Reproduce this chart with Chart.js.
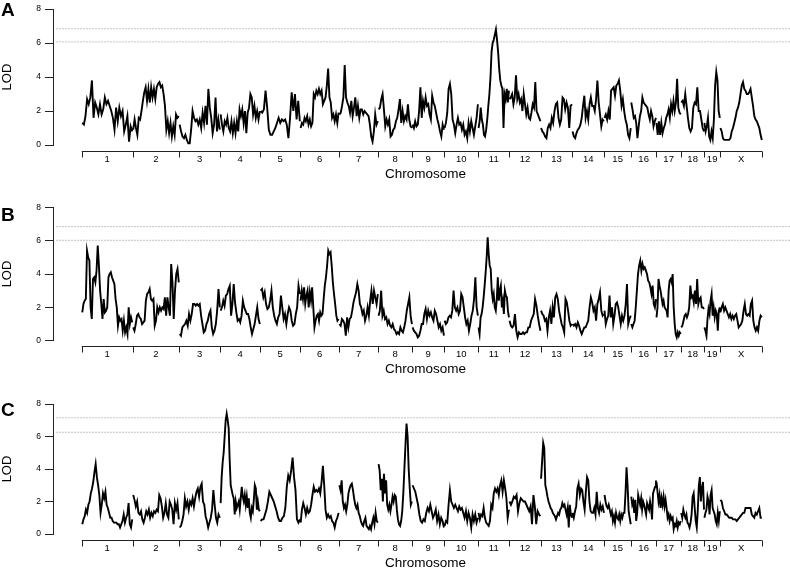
<!DOCTYPE html>
<html>
<head>
<meta charset="utf-8">
<script src="https://cdn.jsdelivr.net/npm/chart.js@4.4.1/dist/chart.umd.min.js"></script>
<style>
    body { margin: 0; background: #fff; width: 790px; height: 568px; position: relative; overflow: hidden; }
    canvas { position: absolute; left: 0; }
</style>
</head>
<body>
<canvas id="chartA" width="790" height="190" style="top:0px"></canvas>
<canvas id="chartB" width="790" height="190" style="top:190px"></canvas>
<canvas id="chartC" width="790" height="188" style="top:380px"></canvas>
<script>
const chromosomes = ['1','2','3','4','5','6','7','8','9','10','11','12','13','14','15','16','17','18','19','X'];
const chrLengths = [204, 186, 164, 160, 160, 155, 157, 136, 128, 136, 124, 126, 126, 128, 107, 101, 99, 93, 63, 169];

// LOD profile, one list per chromosome
const lodA = [
    [1.3,1.2,1.7,2.7,2.4,2.8,3.8,1.6,2.5,2.2,1.8,2.4,1.8,2.1,2.8,2.4,2.6,2.3,2.0,1.6,0.9,2.2,1.4,2.2,1.7,2.0,0.8,1.2,1.7,0.2,1.1,0.8],
    [0.9,1.5,1.0,0.6,1.6,1.5,2.0,2.6,3.1,3.4,2.6,3.3,2.5,3.4,2.8,3.3,2.7,3.4,3.6,3.7,3.4,3.5,3.0,2.3,0.9,1.4,0.7,1.3,0.5,1.1,0.6,1.8,1.6,1.7],
    [1.2,0.8,0.5,0.4,0.6,0.3,0.1,0.1,0.9,2.0,1.6,1.4,1.5,1.2,1.5,1.0,1.9,1.3,2.3,1.2,3.3,2.2,1.6,0.7,1.2,2.8,0.8,1.5,0.9],
    [1.8,1.2,0.8,1.4,1.2,1.6,1.0,0.8,1.4,0.7,1.3,0.7,1.4,0.8,2.1,1.7,2.1,1.3,2.0,0.7,1.9,2.2,3.0,2.8,1.8,2.3,1.6,2.0,1.5,2.0],
    [2.0,1.9,2.1,3.2,2.2,0.9,0.6,0.6,0.8,1.0,1.3,1.6,1.3,1.5,1.4,1.5,1.2,0.4,1.6,3.1,2.0,3.0,1.5,2.6,1.4],
    [1.0,1.3,1.2,1.6,1.4,1.7,1.2,1.5,1.1,1.3,3.0,2.8,3.2,3.0,3.3,3.0,3.2,2.4,2.6,2.8,3.5,4.5,2.8,2.5,1.6,1.8,1.4,1.8,1.3,1.9],
    [1.8,1.9,2.3,2.8,4.7,2.8,2.5,2.3,1.9,2.6,1.7,2.2,2.8,1.7,2.3,1.6,2.1,2.1,1.8,2.0,1.9,1.8,1.7,1.2,0.5,0.2,0.8,1.8,1.2,1.4],
    [2.1,2.2,2.7,3.0,2.1,1.1,1.5,1.2,1.5,0.5,0.6,0.9,1.0,1.4,1.6,2.1,2.7,1.3,2.0,1.4,1.7,1.5,2.4,1.5,1.1,1.0],
    [1.2,1.0,1.4,1.1,1.2,2.0,3.4,1.6,2.6,2.2,2.8,2.3,2.4,1.8,1.5,2.9,2.5,2.3,1.9,1.5,1.2,0.8,0.5,1.2,0.9],
    [1.0,1.3,1.9,3.3,3.6,3.0,1.5,1.2,0.7,1.2,1.6,1.2,1.3,0.9,1.2,0.6,0.8,0.4,1.3,0.8,1.4,1.0,0.6,1.1,1.6,2.4],
    [1.0,1.4,2.2,1.5,1.2,0.6,0.5,0.9,1.5,2.3,3.0,4.0,5.5,6.0,6.2,6.5,6.8,6.2,5.5,4.5,3.8,3.5,3.3,1.0,3.0,2.7,3.3,2.5,3.2],
    [2.7,2.8,3.0,2.4,2.8,4.1,2.7,3.0,2.5,2.7,2.0,3.0,2.4,1.8,2.2,1.6,1.5,1.9,2.4,2.2,3.7,2.0,1.8,1.6,1.4],
    [1.0,0.8,0.7,0.5,0.4,1.0,1.2,1.0,1.6,1.3,2.0,2.4,2.5,1.6,1.2,1.5,2.8,2.7,2.1,2.5,2.2,1.0,2.3,2.4],
    [0.8,0.5,0.4,0.7,0.9,1.0,1.2,1.6,2.3,2.9,1.6,2.0,1.5,2.4,2.8,2.3,2.3,2.0,2.7,3.8,2.5,1.8,1.1,1.5,1.4],
    [1.6,1.8,1.5,2.0,1.5,3.2,3.3,3.4,2.9,3.5,3.6,3.8,3.2,2.3,2.7,2.0,1.5,1.2,0.6,0.4,1.0],
    [2.5,2.1,1.6,1.7,1.3,0.4,1.1,1.7,2.0,2.8,2.5,2.4,2.3,2.2,1.8,1.5,2.0,1.7,1.1,1.4,1.6],
    [1.3,0.6,1.4,0.6,1.3,0.7,1.0,1.2,1.6,1.8,2.1,1.6,2.4,2.0,2.6,2.0,2.5,3.9,2.2,1.9,1.8],
    [2.5,2.6,2.3,3.0,2.3,1.6,1.0,0.8,1.0,2.2,2.5,2.4,3.4,2.0,2.0,1.5,1.0,0.8],
    [1.3,0.8,1.1,1.6,0.5,0.3,0.8,0.4,1.5,3.5,4.3,3.8,2.0,1.6],
    [1.0,0.8,0.4,0.3,0.3,0.3,0.3,0.3,0.4,0.8,1.0,1.3,1.6,2.0,2.2,2.5,3.0,3.5,3.7,3.3,3.2,3.0,3.0,3.1,3.3,2.8,2.3,1.7,1.5,1.4,1.2,1.0,0.6,0.3]
];
const lodB = [
    [1.7,2.2,2.4,2.5,5.4,5.0,4.8,2.0,1.3,3.7,3.8,3.5,4.2,5.7,4.5,3.0,2.2,1.3,2.5,1.7,1.8,2.0,3.8,4.0,4.1,3.8,3.6,3.4,2.5,2.0,0.9,1.4,1.2,1.3,0.6,1.2,0.5,0.8,0.4,2.0,1.0,1.4,1.1],
    [0.8,0.6,1.0,1.5,1.6,1.4,1.3,1.0,1.1,1.2,2.4,2.8,2.9,3.1,2.5,2.4,2.5,0.9,1.2,2.0,1.7,2.0,1.8,2.0,1.9,2.6,1.5,2.6,2.0,1.5,4.6,3.5,1.3,3.0,4.0,4.3,3.5],
    [0.4,0.3,0.8,0.9,1.0,1.2,0.9,1.6,1.2,1.6,2.2,2.2,2.1,2.2,2.1,2.2,1.5,1.0,0.5,0.6,1.0,1.2,1.6,1.8,0.8,0.4,0.6,1.0,1.8,3.1,2.0],
    [1.8,2.0,2.4,2.1,2.7,2.8,3.1,3.3,1.5,2.2,3.4,2.3,1.7,1.2,1.3,1.1,1.5,2.4,2.0,1.8,1.6,1.6,1.3,0.8,0.4,0.7,1.0,1.5,2.0,1.3,1.0],
    [3.0,3.1,2.6,2.9,2.2,1.9,2.0,2.4,3.0,2.0,1.5,1.2,1.0,1.4,1.6,2.7,2.0,1.3,1.6,1.0,1.6,2.0,1.8,1.2,0.9,1.0,1.6,2.0,3.3,2.8],
    [2.4,3.0,2.5,3.2,2.2,2.7,3.0,2.0,2.9,2.4,3.2,2.0,0.8,1.2,1.5,1.6,1.2,1.7,1.5,1.6,2.5,3.3,3.8,4.5,5.4,5.2,5.3,4.5,3.5,2.8,2.2,1.5,1.2,1.3],
    [1.0,0.9,1.3,1.2,1.0,0.3,1.4,0.8,1.3,1.4,1.8,2.3,2.6,2.9,3.4,3.0,2.2,2.0,1.6,1.8,1.2,1.5,2.0,1.5,2.4,3.0,2.2,3.0,2.6,2.2,2.8],
    [1.5,1.8,3.0,1.5,1.8,1.3,1.4,1.0,1.2,0.9,0.8,1.0,0.7,0.6,0.4,0.5,0.4,0.8,0.6,0.5,0.8,1.2,1.8,2.2,2.6,1.5,1.0],
    [0.8,0.6,0.5,0.4,0.2,0.3,0.6,1.0,1.0,1.6,1.9,1.3,1.8,1.5,1.7,1.4,1.2,1.8,1.6,1.2,0.8,1.0,0.6,0.8,0.3],
    [1.2,1.0,1.1,1.4,1.5,1.4,1.8,3.0,2.0,1.8,2.0,1.6,1.8,2.8,2.6,2.0,1.4,1.0,1.2,0.6,1.0,1.5,1.8,2.5,3.8,2.0,1.5],
    [0.8,0.4,1.4,1.6,2.0,2.6,3.3,4.1,5.0,6.2,5.2,4.5,4.3,3.0,2.5,2.8,2.0,1.8,2.5,3.8,2.4,3.0,3.3,2.0,2.4,1.6,3.0,2.7,2.6,1.8,1.4],
    [1.2,0.9,0.8,0.9,1.6,0.6,0.2,0.5,0.4,0.4,0.5,0.4,0.5,0.5,0.8,0.8,1.2,1.4,1.6,2.5,2.1,1.5,1.0,0.6],
    [1.8,1.6,1.5,1.2,1.3,0.6,1.4,1.8,1.0,2.0,1.4,2.6,2.8,2.5,1.8,1.4,1.0,0.8,0.5,2.5,2.3,1.8,1.2,0.9,1.0],
    [1.0,0.9,1.0,0.8,1.1,0.9,0.6,0.4,0.6,0.8,0.8,1.0,1.2,2.0,2.6,2.3,1.8,2.0,1.2,2.2,2.5,2.9,1.8,1.5,1.6],
    [1.8,1.0,1.3,1.5,2.7,1.4,2.0,1.0,1.5,2.2,2.3,2.0,1.5,1.0,1.5,1.2,1.5,2.2,3.4,1.0,1.3,1.5],
    [1.0,0.8,1.0,1.2,2.0,3.0,4.0,4.5,4.8,4.2,4.6,4.3,4.4,4.2,4.0,3.6,3.5,3.2,2.8,3.3,2.2,2.0,2.5],
    [1.4,2.0,3.7,3.3,3.0,2.6,2.2,2.4,2.0,1.9,1.8,1.4,3.0,3.6,3.7,3.5,4.0,2.0,1.0,0.4,0.2,0.5,0.3,0.5,0.4],
    [0.8,0.9,1.2,1.5,1.6,1.4,1.6,2.0,3.3,2.6,2.7,2.3,3.0,2.2,3.7,2.2,2.5,2.6,2.0,2.0,1.9],
    [0.8,0.6,0.3,1.3,1.9,1.6,2.4,2.8,1.5,2.0,1.4,1.8,1.6,0.6,1.8,2.0],
    [1.7,2.0,2.2,1.8,2.0,1.8,1.6,1.4,1.6,1.3,1.5,1.3,1.5,1.6,1.2,0.8,0.9,1.0,1.2,1.8,2.2,1.6,1.5,1.6,1.5,2.2,2.4,1.2,0.8,0.6,0.8,0.6,1.2,1.5,1.4]
];
const lodC = [
    [0.6,0.9,1.1,1.5,1.3,1.8,2.0,2.5,2.8,3.2,3.8,4.3,3.5,3.0,2.4,1.3,1.8,2.5,2.2,2.6,1.8,1.6,1.3,1.0,1.0,0.8,0.7,0.7,0.7,0.6,0.6,0.4,0.6,0.8,1.2,0.7,1.0,1.2,1.9,0.6,0.4,0.9],
    [2.4,2.1,1.7,2.0,1.3,1.2,1.4,0.9,0.7,1.0,1.4,1.2,1.5,1.0,1.3,1.1,1.4,1.3,1.5,1.4,2.4,2.2,1.7,1.0,1.3,1.9,1.2,1.0,2.0,1.8,1.5,0.6,1.9,1.5,1.9,0.9],
    [0.4,0.5,0.8,1.2,2.2,1.7,2.0,1.5,2.0,1.8,2.2,1.7,2.2,2.6,2.8,2.3,2.9,3.1,2.0,1.8,1.1,0.8,0.4,0.7,1.0,1.5,2.7,1.8,1.0,0.7,1.2,1.0],
    [1.9,3.5,4.4,5.0,6.0,7.0,7.4,7.0,6.5,4.5,3.0,2.7,2.4,2.2,1.2,2.0,1.6,1.8,2.0,1.5,2.2,2.9,2.3,2.0,2.4,1.8,2.3,1.6,2.2,1.3,1.0,1.6,1.4,2.1,3.0,2.8,1.5,2.0,1.5,1.4],
    [0.8,0.9,0.9,1.2,1.5,2.0,2.6,2.4,2.2,2.0,1.7,1.4,1.0,0.8,0.8,1.0,1.1,1.6,2.9,3.6,3.3,3.9,4.7,3.5,2.7,0.9,0.7,0.9],
    [0.7,1.5,1.9,1.6,1.2,1.6,1.3,1.4,1.8,2.4,2.9,2.6,2.7,2.6,2.8,2.5,3.2,4.2,3.0,1.5,1.0,1.2,1.0,1.1,0.8,0.7,0.4,0.8,1.0,1.3],
    [3.0,2.7,3.3,2.0,1.6,1.8,1.4,1.8,2.5,2.8,3.0,3.1,2.7,2.2,1.8,1.6,1.8,1.3,1.1,0.8,0.6,0.5,0.8,1.0,0.5,0.4,0.3,0.5,0.3,0.7,1.0,0.6,1.3,0.8,0.7],
    [4.3,3.9,2.7,3.4,2.0,3.7,2.5,3.3,1.8,1.5,1.8,1.4,1.8,2.3,2.0,2.4,2.3,1.5,0.9,0.6,0.5,0.8,1.4,2.5,4.0,5.5,6.8,6.0,4.0,2.8,1.8,2.0],
    [3.0,2.8,2.6,2.2,1.8,1.2,0.8,0.7,0.9,0.8,1.3,1.6,1.4,1.8,1.4,1.0,1.2,1.5,0.8,1.2,0.6,1.0,0.8,0.4],
    [0.5,0.8,0.7,1.8,2.7,2.0,1.8,1.6,1.8,1.6,1.4,1.7,1.5,1.6,1.3,1.0,1.4,0.8,1.3,1.0,0.4,1.2,0.8,1.2,0.7,1.0],
    [1.3,0.9,1.2,1.1,1.6,1.0,0.7,0.6,0.5,0.8,1.8,1.6,2.5,2.8,2.6,2.8,2.4,3.0,3.3,2.6,3.3,2.8,2.2,1.0,1.5],
    [2.0,1.8,2.0,2.3,2.2,2.4,1.4,1.9,2.2,2.1,2.0,2.0,1.8,1.6,1.4,1.7,0.6,2.4,1.7,0.6,1.4,1.2,1.1],
    [3.4,4.5,5.6,5.3,3.0,2.7,2.3,2.0,1.8,1.6,1.5,1.3,1.2,1.1,0.9,1.1,1.3,1.2,1.5,1.6,1.9,1.7,1.8,1.5,1.2,1.6,0.4,1.8,1.2,1.0],
    [1.3,1.0,1.4,1.7,2.8,3.1,2.4,2.8,2.7,2.0,1.5,2.6,3.5,3.3,2.0,1.4,1.3,1.3,1.6,1.2,2.6,1.6,1.3,1.8,1.5,1.7,1.3],
    [2.4,2.0,1.7,1.6,1.8,1.5,1.2,1.4,0.8,1.1,0.7,1.3,1.0,0.9,1.2,0.8,1.2,1.0,1.3,1.3,2.5,4.1,3.0,1.4,1.0,0.6],
    [2.3,1.8,2.0,1.3,2.1,0.8,1.3,2.4,2.1,1.8,2.2,1.5,2.0,1.8,1.5,1.2,1.9,1.7,1.5,2.0,1.6,0.9,2.5,2.7,2.9,3.3],
    [3.2,2.6,2.0,2.4,1.6,2.2,1.8,2.3,1.7,2.1,1.6,1.0,1.2,0.8,1.1,0.9,1.0,0.3,0.6,0.5,0.8,0.4,0.7,0.6,0.8],
    [1.3,1.0,1.5,1.2,1.0,1.2,0.7,0.6,0.4,0.7,1.2,2.3,2.5,1.6,0.8,0.4,1.5,3.0,3.5,2.0,2.8,3.2,1.5],
    [1.0,1.3,1.5,2.3,2.0,1.2,2.4,2.7,1.6,1.4,1.2,0.8,0.6,1.3,0.8,1.4],
    [2.1,2.0,1.6,1.4,1.2,1.2,1.1,1.0,1.0,1.0,0.9,0.9,0.9,0.8,0.9,1.0,1.1,1.2,1.3,1.3,1.6,1.6,1.6,1.6,1.6,1.2,1.1,1.0,1.3,1.2,1.4,1.6,1.0,1.0]
];

// significance thresholds (dotted lines)
const thresholdsA = [6.84, 6.07];
const thresholdsB = [6.84, 6.02];
const thresholdsC = [7.15, 6.26];
const panelLetters = ['A', 'B', 'C'];

const FONT = '"Liberation Sans", Arial, Helvetica, sans-serif';
Chart.defaults.font.family = FONT;
Chart.defaults.color = '#000';

const chrStarts = [];
let genomeLength = 0;
chrLengths.forEach(len => {
    chrStarts.push(genomeLength);
    genomeLength += len;
});

// x scale padding either side of the genome (same units as chrLengths)
const X_MIN = -115;
const X_MAX = genomeLength + 111;

function buildSeries(lod) {
    const pts = [];
    lod.forEach((vals, c) => {
        const n = vals.length;
        vals.forEach((v, i) => {
            pts.push({x: chrStarts[c] + chrLengths[c] * (0.01 + 0.98 * i / (n - 1)), y: v});
        });
        // break the line between chromosomes
        pts.push({x: chrStarts[c] + chrLengths[c], y: null});
    });
    return pts;
}

function thresholdSet(value) {
    return {
        data: [{x: X_MIN + 14, y: value}, {x: X_MAX, y: value}],
        borderColor: '#8a8a8a',
        borderWidth: 1,
        borderDash: [1, 2],
        pointRadius: 0,
    };
}

const chromAxis = {
    id: 'chromAxis',
    afterDraw(chart, args, opts) {
        const {ctx, chartArea, scales: {x}} = chart;
        const yLine = Math.round(chartArea.bottom + 5.5) + 0.5;
        ctx.save();
        ctx.strokeStyle = '#222';
        ctx.lineWidth = 1;
        ctx.beginPath();
        ctx.moveTo(x.getPixelForValue(0), yLine);
        ctx.lineTo(x.getPixelForValue(genomeLength), yLine);
        chrStarts.concat([genomeLength]).forEach(s => {
            const px = Math.round(x.getPixelForValue(s)) + 0.5;
            ctx.moveTo(px, yLine);
            ctx.lineTo(px, yLine + 6);
        });
        ctx.stroke();

        ctx.fillStyle = '#000';
        ctx.textAlign = 'center';
        ctx.textBaseline = 'middle';
        ctx.font = '9.5px ' + FONT;
        chromosomes.forEach((name, i) => {
            ctx.fillText(name, x.getPixelForValue(chrStarts[i] + chrLengths[i] / 2), yLine + 7.5);
        });
        ctx.font = '13.5px ' + FONT;
        ctx.fillText('Chromosome', (chartArea.left + chartArea.right) / 2 + 4, yLine + 23);

        ctx.textAlign = 'left';
        ctx.textBaseline = 'alphabetic';
        ctx.font = 'bold 19px ' + FONT;
        ctx.fillText(opts.letter, 1, opts.letterY);
        ctx.restore();
    }
};

function makePanel(id, lod, thresholds, letter, letterY, padTop, padBottom) {
    const datasets = [{
        data: buildSeries(lod),
        borderColor: '#000',
        borderWidth: 1.9,
        pointRadius: 0,
        tension: 0,
        spanGaps: false,
    }];
    thresholds.forEach(t => datasets.push(thresholdSet(t)));

    return new Chart(document.getElementById(id), {
        type: 'line',
        data: {datasets: datasets},
        options: {
            responsive: false,
            animation: false,
            layout: {padding: {top: padTop, bottom: padBottom, left: 0, right: 0}},
            plugins: {
                legend: {display: false},
                tooltip: {enabled: false},
                chromAxis: {letter: letter, letterY: letterY},
            },
            scales: {
                x: {
                    type: 'linear',
                    display: false,
                    min: X_MIN,
                    max: X_MAX,
                },
                y: {
                    min: 0,
                    max: 8,
                    ticks: {stepSize: 2, color: '#000', font: {size: 8.5}, padding: 4},
                    grid: {drawOnChartArea: false, tickLength: 8, color: '#222'},
                    border: {color: '#222', width: 1},
                    title: {display: true, text: 'LOD', color: '#000', font: {size: 13}, padding: 0},
                    afterFit(scale) {
                        scale.width = 53;
                    },
                },
            },
        },
        plugins: [chromAxis],
    });
}

makePanel('chartA', lodA, thresholdsA, panelLetters[0], 16, 5, 45);
makePanel('chartB', lodB, thresholdsB, panelLetters[1], 31, 17.3, 39.3);
makePanel('chartC', lodC, thresholdsC, panelLetters[2], 36, 24, 34);
</script>
</body>
</html>
